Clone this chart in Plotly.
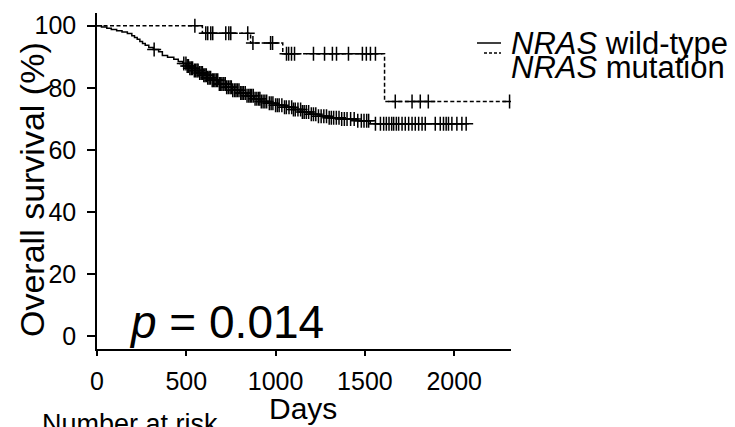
import numpy as np
import plotly.graph_objects as go

# ---------------- data ----------------
wt_days = [0, 25, 55, 80, 110, 140, 170, 195, 210, 225, 240, 255, 270, 290, 315, 345, 366, 395, 430, 455,
           480, 500, 520, 545, 570, 595, 620, 645, 680, 720, 760, 800, 840, 880, 920, 960, 1000, 1050,
           1100, 1150, 1190, 1240, 1300, 1370, 1460, 1530]
wt_surv = [100, 99.6, 99.2, 98.8, 98.4, 98.0, 97.5, 96.8, 96.2, 95.6, 94.9, 94.3, 93.7, 93.0, 92.3, 91.6, 90.4,
           89.8, 89.2, 88.5, 87.8, 87.0, 86.3, 85.6, 84.8, 84.0, 83.2, 82.4, 81.2, 80.2, 79.2, 78.3, 77.4,
           76.5, 75.6, 75.0, 74.4, 73.7, 73.0, 72.2, 71.5, 70.8, 70.3, 69.9, 69.4, 68.4]
wt_last_day = 2067
wt_censored = [320, 486, 498, 505, 512, 520, 528, 535, 545, 552, 560, 566, 575, 583, 590, 598, 605, 612, 620,
               628, 636, 645, 652, 660, 668, 676, 685, 693, 700, 710, 718, 726, 735, 745, 752, 760, 770, 778,
               786, 795, 805, 812, 820, 830, 840, 850, 858, 866, 875, 885, 895, 905, 912, 920, 930, 940, 950,
               965, 975, 985, 1000, 1010, 1020, 1035, 1050, 1060, 1075, 1090, 1100, 1110, 1125, 1140, 1150,
               1160, 1172, 1185, 1200, 1212, 1225, 1240, 1255, 1270, 1285, 1300, 1312, 1325, 1340, 1355,
               1370, 1385, 1400, 1420, 1440, 1460, 1480, 1495, 1510, 1521, 1559, 1587, 1605, 1620, 1635,
               1650, 1661, 1676, 1689, 1708, 1726, 1745, 1764, 1782, 1801, 1820, 1838, 1894, 1922, 1940,
               1955, 1968, 1987, 2015, 2043, 2067]

mut_days = [0, 590, 860, 1040, 1610]
mut_surv = [100, 97.6, 94.4, 91.0, 75.6]
mut_last_day = 2310
mut_censored = [548, 609, 620, 637, 648, 721, 738, 749, 844, 873, 972, 983, 1061, 1073, 1089, 1106, 1212,
                1274, 1318, 1341, 1408, 1486, 1508, 1531, 1559, 1670, 1764, 1810, 1855, 2310]

x_ticks = [0, 500, 1000, 1500, 2000]
y_ticks = [0, 20, 40, 60, 80, 100]

series_names = ["<i>NRAS</i> wild-type", "<i>NRAS</i> mutation"]
p_text = "<i>p</i> = 0.014"

FONT = "Liberation Sans, Arial, sans-serif"
W, H = 735, 427
L, R, T, B = 97, 511, 13, 349  # plot area in pixels


def px(xp):
    return (xp - L) / (R - L)


def py(yp):
    return (B - yp) / (B - T)


def step_value(days, surv, t):
    idx = np.searchsorted(np.asarray(days), np.asarray(t), side="right") - 1
    return np.asarray(surv)[idx]


fig = go.Figure()

# wild-type curve
fig.add_trace(go.Scatter(x=wt_days + [wt_last_day], y=wt_surv + [wt_surv[-1]], mode="lines",
                         line=dict(color="black", width=1.5, shape="hv"), showlegend=False))
fig.add_trace(go.Scatter(x=wt_censored, y=step_value(wt_days, wt_surv, wt_censored), mode="markers",
                         marker=dict(symbol="cross-thin", size=10, line=dict(color="black", width=1.5)),
                         showlegend=False))
# mutation curve
fig.add_trace(go.Scatter(x=mut_days + [mut_last_day], y=mut_surv + [mut_surv[-1]], mode="lines",
                         line=dict(color="black", width=1.5, shape="hv", dash="4px,2.5px"), showlegend=False))
fig.add_trace(go.Scatter(x=mut_censored, y=step_value(mut_days, mut_surv, mut_censored), mode="markers",
                         marker=dict(symbol="cross-thin", size=10, line=dict(color="black", width=1.5)),
                         showlegend=False))

fig.update_layout(
    template="none",
    width=W, height=H,
    margin=dict(l=L, r=W - R, t=T, b=H - B, pad=0, autoexpand=False),
    paper_bgcolor="white", plot_bgcolor="white",
    font=dict(family=FONT, color="black"),
    hovermode=False,
    xaxis=dict(range=[0, 2318], tickvals=x_ticks, ticks="outside", ticklen=5, tickwidth=1.5,
               tickcolor="black", showline=True, linecolor="black", linewidth=1.5, showgrid=False,
               zeroline=False, tickfont=dict(size=25), ticklabelstandoff=4, automargin=False),
    yaxis=dict(range=[-4.2, 104.1], tickvals=y_ticks, ticks="outside", ticklen=8, tickwidth=1.5,
               tickcolor="black", showline=True, linecolor="black", linewidth=1.5, showgrid=False,
               zeroline=False, tickfont=dict(size=25), ticklabelstandoff=6, automargin=False),
)

# legend drawn manually
fig.add_shape(type="line", xref="paper", yref="paper", x0=px(477), x1=px(501), y0=py(43), y1=py(43),
              line=dict(color="black", width=1.5))
fig.add_shape(type="line", xref="paper", yref="paper", x0=px(484), x1=px(501), y0=py(53), y1=py(53),
              line=dict(color="black", width=1.5, dash="3px,2px"))

ann = [
    dict(text=series_names[0], x=px(509), y=py(43), xanchor="left", yanchor="middle", size=31),
    dict(text=series_names[1], x=px(509), y=py(67), xanchor="left", yanchor="middle", size=31),
    dict(text=p_text, x=px(127), y=py(322), xanchor="left", yanchor="middle", size=46),
    dict(text="Days", x=px(303), y=py(408), xanchor="center", yanchor="middle", size=30),
    dict(text="Number at risk", x=px(40), y=py(424), xanchor="left", yanchor="middle", size=27),
]
for a in ann:
    fig.add_annotation(text=a["text"], x=a["x"], y=a["y"], xref="paper", yref="paper",
                       xanchor=a["xanchor"], yanchor=a["yanchor"], showarrow=False,
                       font=dict(size=a["size"], family=FONT, color="black"))
fig.add_annotation(text="Overall survival (%)", x=px(32), y=py(190), xref="paper", yref="paper",
                   textangle=-90, showarrow=False, xanchor="center", yanchor="middle",
                   font=dict(size=34, family=FONT, color="black"))

fig.write_html("out.html", config={"displayModeBar": False},
               post_script="document.body.style.margin='0';")
